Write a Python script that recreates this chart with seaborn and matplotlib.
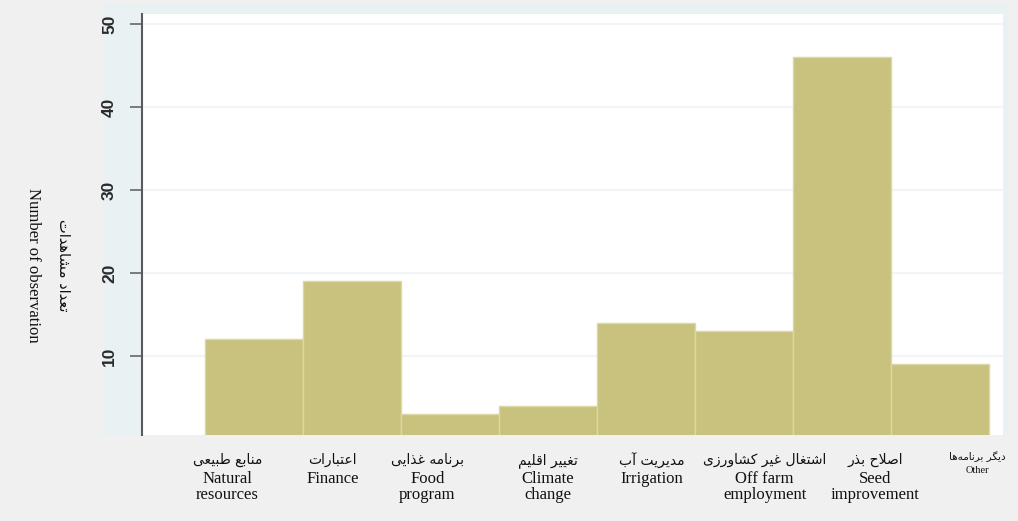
import matplotlib
matplotlib.use("Agg")
import matplotlib.pyplot as plt
from matplotlib.patches import Rectangle
import seaborn as sns
import pandas as pd

# ---------------- data ----------------
categories_fa = ["منابع طبیعی", "اعتبارات", "برنامه غذایی", "تغییر اقلیم",
                 "مدیریت آب", "اشتغال غیر کشاورزی", "اصلاح بذر", "دیگر برنامه‌ها"]
categories_en = ["Natural\nresources", "Finance", "Food\nprogram", "Climate\nchange",
                 "Irrigation", "Off farm\nemployment", "Seed\nimprovement", "Other"]
values = [12, 19, 3, 4, 14, 13, 46, 9]
yticks = [10, 20, 30, 40, 50]
ylabel_fa = "تعداد مشاهدات"
ylabel_en = "Number of observation"

# ---------------- simple Persian shaping (presentation forms + RTL order) ----------------
FORMS = {
    'ا': (0xFE8D, 0xFE8E, None, None), 'آ': (0xFE81, 0xFE82, None, None),
    'ب': (0xFE8F, 0xFE90, 0xFE91, 0xFE92), 'ت': (0xFE95, 0xFE96, 0xFE97, 0xFE98),
    'ح': (0xFEA1, 0xFEA2, 0xFEA3, 0xFEA4), 'د': (0xFEA9, 0xFEAA, None, None),
    'ذ': (0xFEAB, 0xFEAC, None, None), 'ر': (0xFEAD, 0xFEAE, None, None),
    'ز': (0xFEAF, 0xFEB0, None, None), 'ش': (0xFEB5, 0xFEB6, 0xFEB7, 0xFEB8),
    'ص': (0xFEB9, 0xFEBA, 0xFEBB, 0xFEBC), 'ط': (0xFEC1, 0xFEC2, 0xFEC3, 0xFEC4),
    'ع': (0xFEC9, 0xFECA, 0xFECB, 0xFECC), 'غ': (0xFECD, 0xFECE, 0xFECF, 0xFED0),
    'ق': (0xFED5, 0xFED6, 0xFED7, 0xFED8), 'ل': (0xFEDD, 0xFEDE, 0xFEDF, 0xFEE0),
    'م': (0xFEE1, 0xFEE2, 0xFEE3, 0xFEE4), 'ن': (0xFEE5, 0xFEE6, 0xFEE7, 0xFEE8),
    'ه': (0xFEE9, 0xFEEA, 0xFEEB, 0xFEEC), 'و': (0xFEED, 0xFEEE, None, None),
    'ی': (0xFBFC, 0xFBFD, 0xFBFE, 0xFBFF), 'ک': (0xFB8E, 0xFB8F, 0xFB90, 0xFB91),
    'گ': (0xFB92, 0xFB93, 0xFB94, 0xFB95),
}
LIG = {'ا': (0xFEFB, 0xFEFC), 'آ': (0xFEF5, 0xFEF6)}


def jtype(c):
    if c in FORMS:
        return 'D' if FORMS[c][2] is not None else 'R'
    return None


def shape(s):
    letters = list(s)
    n = len(letters)
    out = []
    i = 0
    while i < n:
        c = letters[i]
        if c not in FORMS:
            if c != '\u200c':
                out.append(c)
            i += 1
            continue
        prev = letters[i - 1] if i > 0 else None
        joins_prev = prev is not None and jtype(prev) == 'D'
        if c == 'ل' and i + 1 < n and letters[i + 1] in LIG:
            lig = LIG[letters[i + 1]]
            out.append(chr(lig[1] if joins_prev else lig[0]))
            i += 2
            continue
        nxt = letters[i + 1] if i + 1 < n else None
        joins_next = jtype(c) == 'D' and nxt is not None and jtype(nxt) is not None
        f = FORMS[c]
        if joins_prev and joins_next:
            g = f[3]
        elif joins_prev:
            g = f[1]
        elif joins_next:
            g = f[2]
        else:
            g = f[0]
        out.append(chr(g))
        i += 1
    return ''.join(reversed(out))


# ---------------- plot ----------------
sns.set_style("white")
plt.rcParams['font.family'] = ['Liberation Serif', 'DejaVu Sans']

W, H = 1018, 521
fig = plt.figure(figsize=(W / 100, H / 100), dpi=100, facecolor='#f0f0f0')
# pale panel behind the plot region
fig.patches.append(Rectangle((103 / W, 1 - 435 / H), (1008 - 103) / W, (435 - 3) / H,
                             transform=fig.transFigure, facecolor='#eaf1f3',
                             edgecolor='none', zorder=-5))

ax = fig.add_axes([142 / W, 1 - 435 / H, (1003 - 142) / W, (435 - 14) / H])
ax.set_zorder(2)
ax.set_facecolor('white')

df = pd.DataFrame({"cat": categories_en, "val": values})
sns.barplot(data=df, x="cat", y="val", order=categories_en, width=1.0,
            color='#c9c27e', saturation=1, edgecolor='#dcd7a6', linewidth=1.0, ax=ax)

ax.set_xlim(-1.143, 7.643)
ax.set_ylim(0.48, 51.2)
ax.set_yticks(yticks)
ax.set_yticklabels([str(t) for t in yticks], rotation=90, va='center',
                   family='Liberation Sans', fontsize=12.5, fontweight='bold',
                   color='#2a2a2a')
ax.tick_params(axis='y', length=9, width=1.2, color='#666666', pad=9, left=True)
ax.set_xticks([])
ax.set_xlabel("")
ax.set_ylabel("")
ax.yaxis.grid(True, color='#f0f5f7', linewidth=1.5)
ax.set_axisbelow(True)
for side in ['top', 'right', 'bottom']:
    ax.spines[side].set_visible(False)
ax.spines['left'].set_color('#5a5a5a')
ax.spines['left'].set_linewidth(1.5)

# category labels (Persian above, English below)
label_shift = [-0.27, -0.20, -0.23, 0.0, 0.06, 0.21, 0.34, 0.38]
for i, (fa, en) in enumerate(zip(categories_fa, categories_en)):
    x = i + label_shift[i]
    small = (en == "Other")
    ax.annotate(shape(fa), xy=(x, 0), xycoords=('data', 'axes fraction'),
                xytext=(0, -12 if small else -13), textcoords='offset points',
                ha='center', va='top', family='DejaVu Sans',
                fontsize=7.5 if small else 10, color='#111111', annotation_clip=False)
    ax.annotate(en, xy=(x, 0), xycoords=('data', 'axes fraction'),
                xytext=(0, -22 if small else -26), textcoords='offset points',
                ha='center', va='top', family='Liberation Serif',
                fontsize=7.5 if small else 12, color='#111111', linespacing=1.0,
                annotation_clip=False)

# y axis titles
fig.text(63 / W, 1 - 265 / H, shape(ylabel_fa), rotation=270, ha='center', va='center',
         family='DejaVu Sans', fontsize=10.5, color='#111111')
fig.text(33 / W, 1 - 265 / H, ylabel_en, rotation=270, ha='center', va='center',
         family='Liberation Serif', fontsize=12, color='#111111')

fig.savefig("out.png", dpi=100, facecolor=fig.get_facecolor())
